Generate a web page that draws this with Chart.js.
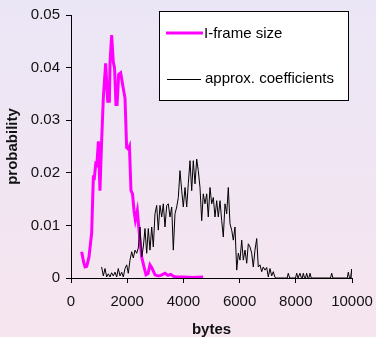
<!DOCTYPE html>
<html>
<head>
<meta charset="utf-8">
<script src="https://cdn.jsdelivr.net/npm/chart.js@4"></script>
<style>
  html, body { margin: 0; padding: 0; }
  body {
    width: 376px; height: 337px; overflow: hidden;
    background: linear-gradient(to bottom, #ebe6f6 0%, #f6e5ef 100%);
  }
  #wrap { width: 376px; height: 337px; }
</style>
</head>
<body>
<div id="wrap"><canvas id="chart" width="376" height="337"></canvas></div>
<script>
// I-frame size distribution
const frameBytes = [380, 450, 500, 560, 640, 735, 795, 830, 880, 920, 975, 1030, 1090, 1150, 1233, 1305, 1365, 1390, 1447, 1505, 1550, 1600, 1640, 1697, 1768, 1862, 1922, 1980, 2040, 2080, 2135, 2190, 2242, 2290, 2360, 2431, 2515, 2598, 2669, 2740, 2811, 2870, 2990, 3100, 3200, 3345, 3450, 3550, 3650, 3760, 4000, 4300, 4700];
const frameProb = [0.0050, 0.0030, 0.0021, 0.0022, 0.0040, 0.0085, 0.0191, 0.0190, 0.0217, 0.0215, 0.0260, 0.0166, 0.0260, 0.0342, 0.0408, 0.0336, 0.0336, 0.0411, 0.0462, 0.0410, 0.0400, 0.0330, 0.0330, 0.0387, 0.0390, 0.0360, 0.0342, 0.0248, 0.0245, 0.0250, 0.0166, 0.0160, 0.0128, 0.0110, 0.0128, 0.0085, 0.0040, 0.0021, 0.0006, 0.0008, 0.0025, 0.0020, 0.0006, 0.0004, 0.0005, 0.0009, 0.0005, 0.0007, 0.0003, 0.0002, 0.0002, 0.0001, 0.0002];

// approx. coefficients distribution
const coefBytes = [1090, 1150, 1210, 1270, 1330, 1388, 1445, 1505, 1566, 1626, 1683, 1744, 1804, 1861, 1922, 1982, 2039,
  2100, 2160, 2217, 2278, 2338, 2395, 2455, 2516, 2573, 2633, 2694, 2751, 2811, 2872, 2929, 2989, 3049, 3107, 3167, 3228, 3285, 3345, 3406, 3463, 3523, 3584, 3641, 3701, 3762, 3819, 3879, 3940, 3997, 4057, 4118, 4174, 4235, 4295, 4352, 4413,
  4473, 4530, 4591, 4651, 4708, 4769, 4829, 4886, 4947, 5007, 5064, 5125, 5185, 5242, 5302, 5363, 5420, 5480, 5541, 5598, 5658, 5719, 5776, 5836, 5897, 5954, 6014, 6075, 6132, 6192, 6253, 6310, 6370, 6431, 6487, 6548, 6609, 6665, 6726, 6786, 6843, 6904, 6964, 7021, 7082, 7142, 7199, 7260,
  7300, 7690, 7733, 7780, 7990, 8032, 8080, 8110, 8149, 8200, 8230, 8267, 8310, 8345, 8386, 8430, 8465, 8505, 8550, 9235, 9278, 9320, 9830, 9869, 9910, 9950, 9989, 10000];
const coefProb = [0.0021, 0.0004, 0.0018, 0.0002, 0.0008, 0.0002, 0.0010, 0.0004, 0.0011, 0.0002, 0.0018, 0.0004, 0.0011, 0.0002, 0.0018, 0.0025, 0.0009,
  0.0034, 0.0050, 0.0038, 0.0053, 0.0047, 0.0057, 0.0097, 0.0040, 0.0059, 0.0094, 0.0047, 0.0094, 0.0053, 0.0097, 0.0059, 0.0122, 0.0138, 0.0091, 0.0138, 0.0116, 0.0141, 0.0097, 0.0138, 0.0141, 0.0116, 0.0135, 0.0053, 0.0122, 0.0135, 0.0153, 0.0204, 0.0166, 0.0135, 0.0172, 0.0135, 0.0179, 0.0223, 0.0166, 0.0223, 0.0179,
  0.0226, 0.0204, 0.0172, 0.0109, 0.0160, 0.0141, 0.0160, 0.0116, 0.0172, 0.0141, 0.0153, 0.0116, 0.0147, 0.0116, 0.0147, 0.0109, 0.0078, 0.0141, 0.0122, 0.0172, 0.0103, 0.0091, 0.0072, 0.0097, 0.0015, 0.0047, 0.0034, 0.0072, 0.0034, 0.0053, 0.0028, 0.0065, 0.0059, 0.0047, 0.0021, 0.0053, 0.0075, 0.0021, 0.0025, 0.0012, 0.0021, 0.0015, 0.0020, 0.0002, 0.0018, 0.0004, 0.0012, 0.0001,
  0, 0, 0.0009, 0, 0, 0.0009, 0, 0, 0.0009, 0, 0, 0.0009, 0, 0, 0.0009, 0, 0, 0.0009, 0, 0, 0.0009, 0, 0, 0.0011, 0, 0, 0.0017, 0];

const xTicks = [0, 2000, 4000, 6000, 8000, 10000];
const yTicks = [0, 0.01, 0.02, 0.03, 0.04, 0.05];

const toPoints = (xs, ys) => xs.map((x, i) => ({ x: x, y: ys[i] }));

const FONT = "'Liberation Sans', Arial, sans-serif";

// legend box drawn inside the plot, like the original
const boxLegend = {
  id: "boxLegend",
  afterDraw(chart) {
    const ctx = chart.ctx;
    ctx.save();
    ctx.fillStyle = "#fff";
    ctx.fillRect(159.5, 11.5, 189, 89);
    ctx.strokeStyle = "#000";
    ctx.lineWidth = 1;
    ctx.strokeRect(159.5, 11.5, 189, 89);

    ctx.strokeStyle = "#ff00ff";
    ctx.lineWidth = 3;
    ctx.beginPath();
    ctx.moveTo(166, 33);
    ctx.lineTo(203, 33);
    ctx.stroke();

    ctx.strokeStyle = "#000";
    ctx.lineWidth = 1;
    ctx.beginPath();
    ctx.moveTo(167, 79.5);
    ctx.lineTo(201, 79.5);
    ctx.stroke();

    ctx.fillStyle = "#000";
    ctx.font = "15px " + FONT;
    ctx.textBaseline = "middle";
    ctx.fillText("I-frame size", 204, 34);
    ctx.fillText("approx. coefficients", 205, 79);
    ctx.restore();
  }
};

new Chart(document.getElementById("chart"), {
  type: "line",
  data: {
    datasets: [
      {
        label: "approx. coefficients",
        data: toPoints(coefBytes, coefProb),
        borderColor: "#000",
        borderWidth: 1,
        pointRadius: 0,
        tension: 0,
        order: 0,
      },
      {
        label: "I-frame size",
        data: toPoints(frameBytes, frameProb),
        borderColor: "#ff00ff",
        borderWidth: 3,
        pointRadius: 0,
        tension: 0,
        order: 1,
      },
    ],
  },
  options: {
    responsive: false,
    animation: false,
    events: [],
    layout: { padding: { left: 0, right: 24, top: 13, bottom: 0 } },
    plugins: {
      legend: { display: false },
      tooltip: { enabled: false },
    },
    scales: {
      x: {
        type: "linear",
        min: 0,
        max: 10000,
        afterFit: (scale) => {
          scale.height = 59;
          scale.paddingLeft = 0;
          scale.paddingRight = 0;
        },
        afterBuildTicks: (scale) => { scale.ticks = xTicks.map(v => ({ value: v })); },
        ticks: {
          color: "#111",
          font: { family: FONT, size: 15 },
          padding: 10,
          maxRotation: 0,
          callback: (v) => String(v),
        },
        grid: { display: true, drawOnChartArea: false, drawTicks: true, tickLength: 5, color: "#000" },
        border: { display: true, color: "#000" },
        title: {
          display: true,
          text: "bytes",
          color: "#111",
          font: { family: FONT, size: 15, weight: "bold", lineHeight: 1 },
          padding: { top: 0, bottom: 0 },
        },
      },
      y: {
        type: "linear",
        min: 0,
        max: 0.05,
        afterFit: (scale) => { scale.width = 71; },
        afterBuildTicks: (scale) => { scale.ticks = yTicks.map(v => ({ value: v })); },
        ticks: {
          color: "#111",
          font: { family: FONT, size: 15 },
          padding: 6,
          callback: (v) => String(+v.toFixed(2)),
        },
        grid: { display: true, drawOnChartArea: false, drawTicks: true, tickLength: 5, color: "#000" },
        border: { display: true, color: "#000" },
        title: {
          display: true,
          text: "probability",
          color: "#111",
          font: { family: FONT, size: 15, weight: "bold" },
          padding: { top: 4, bottom: 0 },
        },
      },
    },
  },
  plugins: [boxLegend],
});
</script>
</body>
</html>
